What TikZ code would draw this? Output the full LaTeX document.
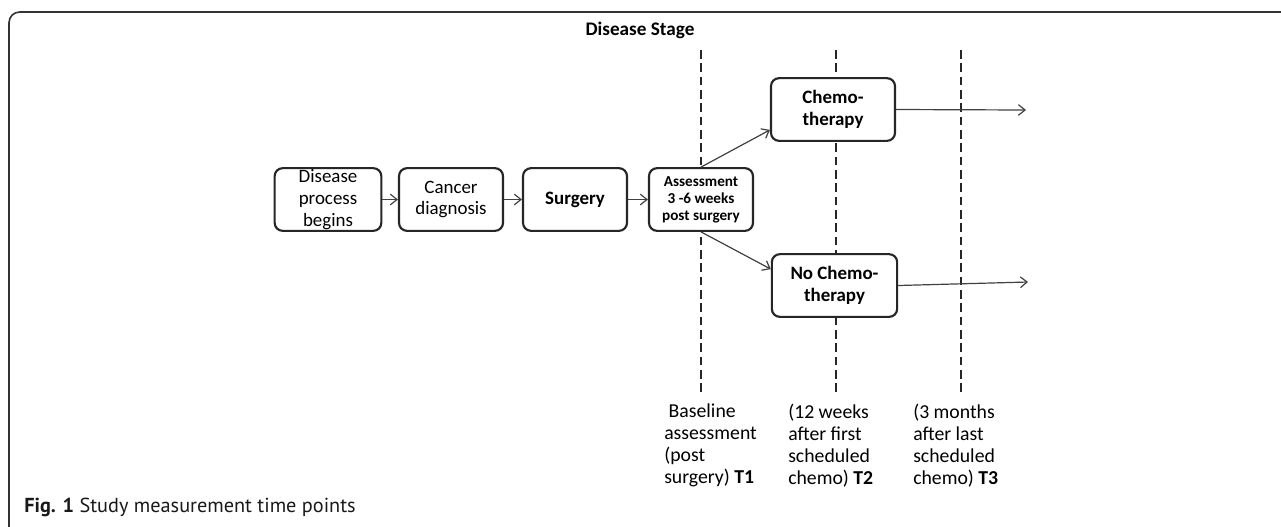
\documentclass[tikz,border=0pt]{standalone}
\usepackage{fontspec}
\setmainfont{Carlito}
\newfontfamily\capfont{PT Sans}
\usetikzlibrary{arrows.meta}
\begin{document}
\begin{tikzpicture}[x=0.75pt,y=-0.75pt,
  box/.style={draw=black!85,line width=1.6pt,rounded corners=6pt,fill=white,
    minimum height=47pt,align=center,inner sep=0pt,font=\fontsize{14.2}{16.3}\selectfont},
  flow/.style={draw=black!75,line width=0.9pt,-{Straight Barb[length=5pt,width=8pt]}},
  stage/.style={draw=black!85,line width=1.3pt,dash pattern=on 6.5pt off 3.5pt},
  tlabel/.style={anchor=north west,align=left,inner sep=0pt,font=\fontsize{14.8}{16.4}\selectfont}]
\useasboundingbox (0,0) rectangle (1281,526);
% frame
\draw[black!80,line width=1.2pt,rounded corners=8pt] (9,527) -- (9,12) -- (1283,12);
% stage title
\node[font=\bfseries\fontsize{14.4}{17}\selectfont,inner sep=0pt] (title) at (640,30) {Disease Stage};
% dashed stage lines
\coordinate (d1t) at (701,50); \coordinate (d1b) at (701,396);
\coordinate (d2t) at (836,50); \coordinate (d2b) at (836,396);
\coordinate (d3t) at (961,50); \coordinate (d3b) at (961,396);
\draw[stage] (d1t) -- (d1b);
\draw[stage] (d2t) -- (d2b);
\draw[stage] (d3t) -- (d3b);
% boxes
\node[box,minimum width=80pt] (b1) at (328,199.5) {Disease\\process\\begins};
\node[box,minimum width=78pt] (b2) at (451,199.5) {Cancer\\diagnosis};
\node[box,minimum width=78pt,font=\bfseries\fontsize{14.2}{16.3}\selectfont] (b3) at (575,199.5) {Surgery};
\node[box,minimum width=78pt,font=\bfseries\fontsize{11.4}{12.8}\selectfont] (b4) at (701,199.5) {Assessment\\3 -6 weeks\\post surgery};
\node[box,minimum width=93pt,font=\bfseries\fontsize{14.2}{16.3}\selectfont] (chemo) at (833,109.5) {Chemo-\\therapy};
\node[box,minimum width=94pt,font=\bfseries\fontsize{14.2}{16.3}\selectfont] (noc) at (834.5,285.5) {No Chemo-\\therapy};
% connectors
\draw[flow] (b1) -- (b2);
\draw[flow] (b2) -- (b3);
\draw[flow] (b3) -- (b4);
\draw[flow] (b4.north) -- ([yshift=9pt]chemo.south west);
\draw[flow] (b4.south) -- ([yshift=-12pt]noc.north west);
\coordinate (e1) at (1026,110);
\coordinate (e2) at (1028,282);
\draw[flow] (chemo.east) -- (e1);
\draw[flow] (noc.east) -- (e2);
% time point labels
\node[tlabel] (t1) at (664,404) {\ Baseline\\assessment\\(post\\surgery) \textbf{T1}};
\node[tlabel] (t2) at (788,404) {(12 weeks\\after first\\scheduled\\chemo) \textbf{T2}};
\node[tlabel] (t3) at (913,404) {(3 months\\after last\\scheduled\\chemo) \textbf{T3}};
% caption
\node[anchor=base west,inner sep=0pt,font=\capfont\fontsize{15.2}{17}\selectfont,text=black!90] (cap) at (24,512) {\textbf{Fig. 1} Study measurement time points};
\end{tikzpicture}
\end{document}
